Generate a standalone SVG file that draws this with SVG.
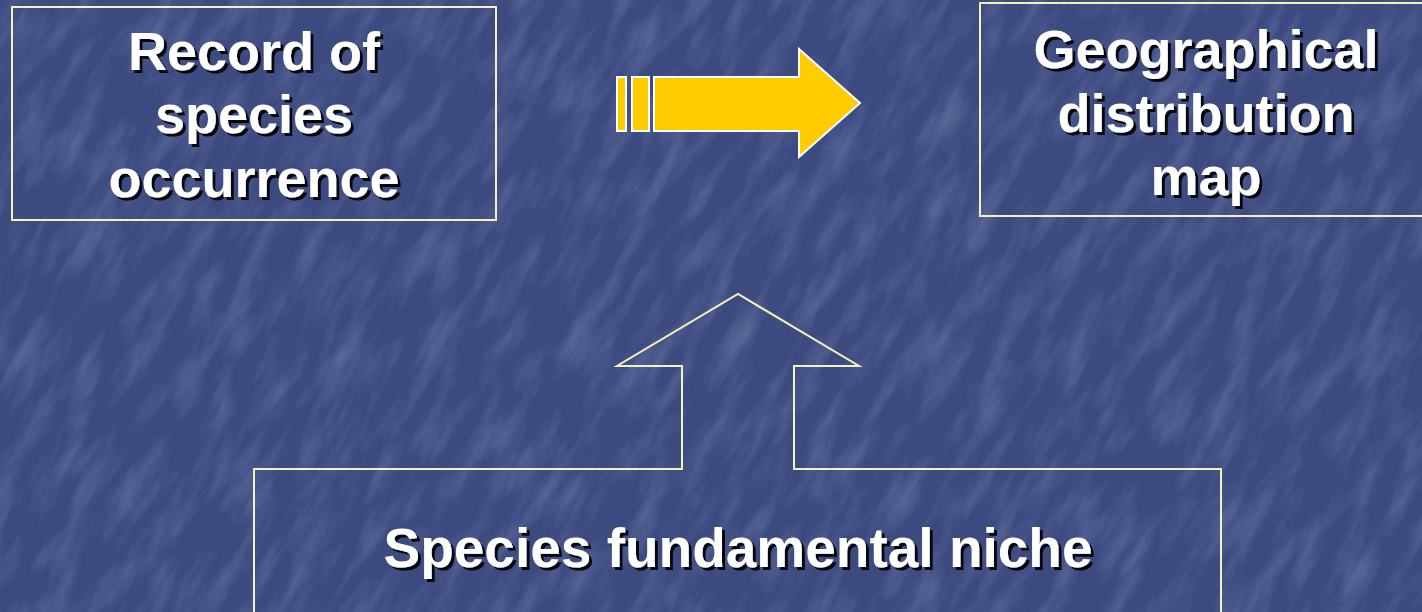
<svg xmlns="http://www.w3.org/2000/svg" width="1422" height="612" viewBox="0 0 1422 612">
  <defs>
    <filter id="texture" x="0" y="0" width="100%" height="100%">
      <feTurbulence type="fractalNoise" baseFrequency="0.05 0.014" numOctaves="4" seed="7" result="noise"/>
      <feColorMatrix in="noise" type="matrix" values="0 0 0 0 0.55  0 0 0 0 0.62  0 0 0 0 0.85  0 0 0 1.2 -0.5" result="streaks"/>
      <feComposite in="streaks" in2="SourceGraphic" operator="in"/>
    </filter>
    <filter id="shadow" x="-5%" y="-20%" width="110%" height="140%">
      <feDropShadow dx="3" dy="3" stdDeviation="0.6" flood-color="#000" flood-opacity="0.9"/>
    </filter>
  </defs>
  <style>
    .frame { fill: none; stroke: #f6f1b8; stroke-width: 2; }
    .label { font-family: "Liberation Sans", Arial, sans-serif; font-weight: bold; fill: #ffffff; text-anchor: middle; filter: url(#shadow); }
    .big { font-size: 54px; }
    .wide { font-size: 55px; }
    .flow { fill: #ffcc00; stroke: #ffffff; stroke-width: 2; }
  </style>

  <!-- textured blue backdrop with fine diagonal streaks -->
  <rect x="0" y="0" width="1422" height="612" fill="#3d4a80"/>
  <rect x="-600" y="-900" width="2600" height="2400" fill="#3d4a80" filter="url(#texture)" opacity="0.35" transform="rotate(28 711 306)"/>

  <g id="record">
    <rect class="frame" x="12" y="7" width="484" height="213"/>
    <text class="label big" x="254" y="70">Record of</text>
    <text class="label big" x="254" y="133">species</text>
    <text class="label big" x="254" y="197">occurrence</text>
  </g>

  <g id="distribution">
    <rect class="frame" x="980" y="3" width="460" height="213"/>
    <text class="label big" x="1206" y="68">Geographical</text>
    <text class="label big" x="1206" y="132">distribution</text>
    <text class="label big" x="1206" y="195">map</text>
  </g>

  <g id="niche">
    <!-- box outline merged with the upward block arrow -->
    <path class="frame" d="M254 620 V469 H682 V366 H617 L738 294 L859 366 H794 V469 H1221 V620"/>
    <text class="label wide" x="738" y="567">Species fundamental niche</text>
  </g>

  <g id="connectors">
    <rect class="flow" x="617" y="77" width="9" height="54"/>
    <rect class="flow" x="632" y="77" width="17" height="54"/>
    <path class="flow" d="M654 77 H799 V49 L860 103 L799 157 V131 H654 Z"/>
  </g>
</svg>
